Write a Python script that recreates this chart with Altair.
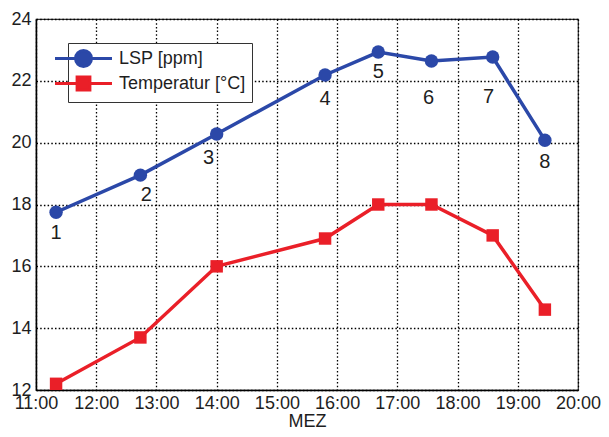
import altair as alt
import pandas as pd

times = ["11:20", "12:44", "14:00", "15:48", "16:41", "17:34", "18:35", "19:27"]
lsp = [17.75, 18.95, 20.28, 22.19, 22.93, 22.64, 22.77, 20.08]
temp = [12.2, 13.7, 16.0, 16.9, 18.0, 18.0, 17.0, 14.6]
point_labels = ["1", "2", "3", "4", "5", "6", "7", "8"]
x_ticks = list(range(11, 21))
y_ticks = [12, 14, 16, 18, 20, 22, 24]
series_names = ["LSP [ppm]", "Temperatur [°C]"]

# label offsets (style, pixels)
label_dx = [0, 6, -8, 0, 0, -3, -4, 0]
label_dy = [21, 20, 24, 24, 20, 37, 40, 22]

def to_hours(t):
    h, m = t.split(":")
    return int(h) + int(m) / 60.0

hours = [to_hours(t) for t in times]

df = pd.DataFrame(
    {"t": hours * 2, "v": lsp + temp,
     "s": [series_names[0]] * len(hours) + [series_names[1]] * len(hours)}
)
lab = pd.DataFrame({"t": hours, "v": lsp, "lab": point_labels})

BLUE = "#2b48a8"
RED = "#ea1f28"
TXT = "#1e1e1e"
FONT = "Liberation Sans"

xenc = alt.X("t:Q", scale=alt.Scale(domain=[11, 20], nice=False),
             axis=alt.Axis(values=x_ticks, labelExpr="datum.value + ':00'", title="MEZ",
                           grid=True, labelFlush=False))
yenc = alt.Y("v:Q", scale=alt.Scale(domain=[12, 24], nice=False),
             axis=alt.Axis(values=y_ticks, title=None, grid=True, labelFlush=False))

circle_path = ("M-3.56,0H3.56M-1,0C-1,-0.552 -0.552,-1 0,-1C0.552,-1 1,-0.552 1,0"
               "C1,0.552 0.552,1 0,1C-0.552,1 -1,0.552 -1,0Z")
square_path = "M-3.56,0H3.56M-0.8,-0.8H0.8V0.8H-0.8Z"

cscale = alt.Scale(domain=series_names, range=[BLUE, RED])
legend = alt.Legend(
    title=None, orient="none", legendX=32, legendY=24,
    strokeColor="#333", fillColor="white", padding=6,
    labelFontSize=18, labelFont=FONT, labelColor=TXT,
    symbolSize=256, labelOffset=26, rowPadding=-2,
    symbolStrokeWidth=3,
)

lines = alt.Chart(df).mark_line(strokeWidth=3.5).encode(
    x=xenc, y=yenc, color=alt.Color("s:N", scale=cscale, legend=legend))

legend_layer = alt.Chart(df).mark_point(filled=True, size=256, strokeWidth=3, opacity=1).encode(
    x="t:Q", y="v:Q",
    color=alt.Color("s:N", scale=cscale, legend=legend),
    stroke=alt.Stroke("s:N", scale=cscale, legend=legend),
    shape=alt.Shape("s:N", scale=alt.Scale(domain=series_names, range=[circle_path, square_path]),
                    legend=legend),
).transform_filter("false")

pts_lsp = alt.Chart(df[df.s == series_names[0]]).mark_point(
    shape="circle", filled=True, size=180, opacity=1, color=BLUE
).encode(x="t:Q", y="v:Q")
pts_temp = alt.Chart(df[df.s == series_names[1]]).mark_point(
    shape="square", filled=True, size=155, opacity=1, color=RED
).encode(x="t:Q", y="v:Q")

text_layers = []
for i, name in enumerate(point_labels):
    text_layers.append(
        alt.Chart(lab).transform_filter(alt.datum.lab == name).mark_text(
            fontSize=20, font=FONT, color=TXT, baseline="middle",
            dx=label_dx[i], dy=label_dy[i]
        ).encode(x="t:Q", y="v:Q", text="lab:N")
    )

chart = alt.layer(lines, pts_lsp, pts_temp, *text_layers, legend_layer).properties(
    width=542, height=371,
    autosize=alt.AutoSizeParams(type="none"),
    padding={"left": 28, "top": 11, "right": 23, "bottom": 40},
).configure_view(stroke="#333", strokeWidth=1.2).configure_axis(
    labelFont=FONT, labelFontSize=18, labelColor=TXT, titleFont=FONT,
    titleFontSize=18, titleColor=TXT, titleFontWeight="normal",
    domainColor="black", domainWidth=1.5, tickSize=0, labelPadding=5,
    gridColor="black", gridDash=[1.5, 2.2], gridWidth=1.3, gridOpacity=1,
).configure_axisX(titlePadding=0, labelPadding=4)

chart.save("out.html", embed_options={"renderer": "svg", "actions": False})
